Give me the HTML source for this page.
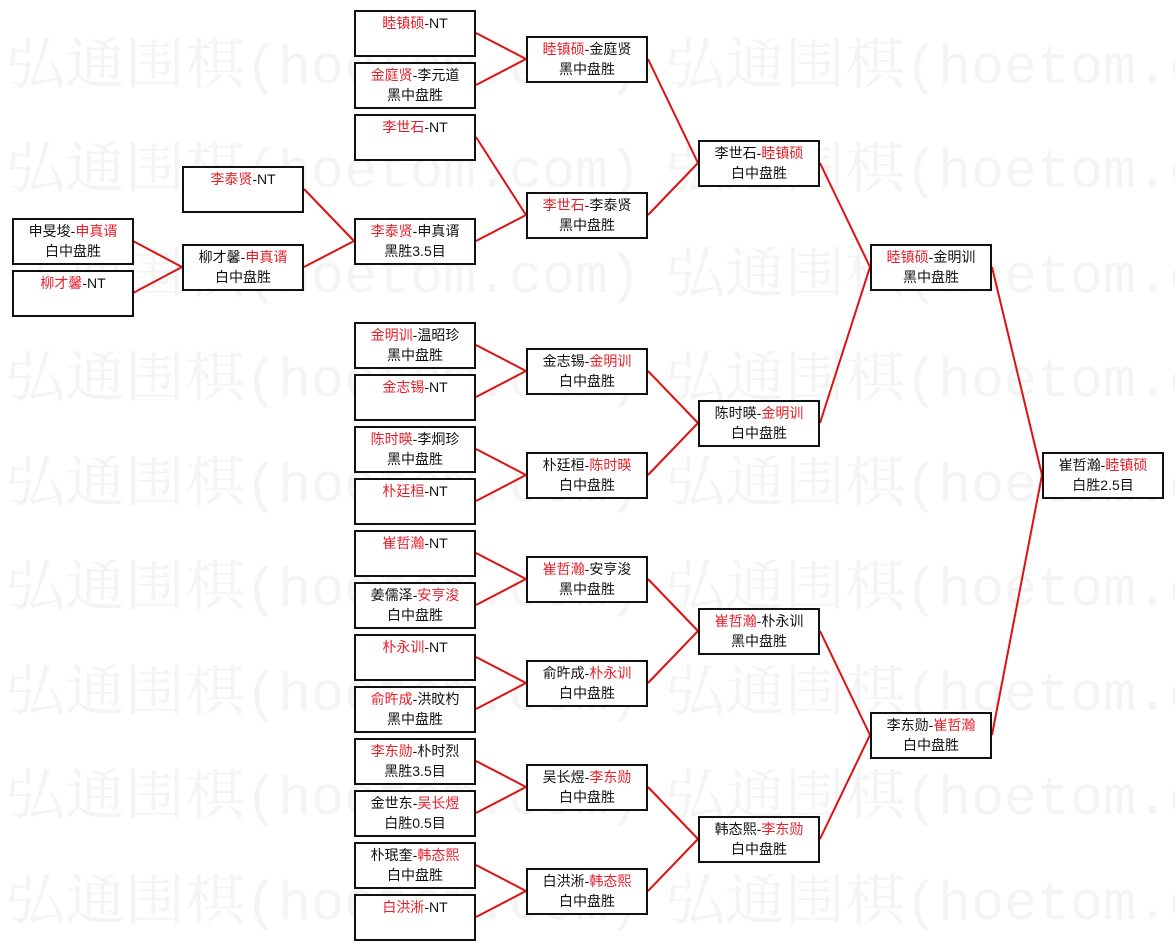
<!DOCTYPE html>
<html><head><meta charset="utf-8"><style>
html,body{margin:0;padding:0;background:#fff;}
body{width:1175px;height:949px;position:relative;overflow:hidden;font-family:"Liberation Sans","Noto Sans CJK SC",sans-serif;}
.wm{position:absolute;left:5px;white-space:nowrap;font-family:"Liberation Mono","Noto Serif CJK SC",monospace;font-size:55px;line-height:60px;color:#f4f4f4;}
.wm i{font-style:normal;display:inline-block;width:660px;overflow:hidden;}
.wm b{font-weight:normal;font-size:60px;}
.b{position:absolute;width:118px;height:42px;border:2px solid #111;background:#fff;font-size:14px;line-height:20px;text-align:center;color:#111;padding-top:1px;box-sizing:content-box;}
.b span{color:#e8202a;}
svg{position:absolute;left:0;top:0;}
</style></head><body>
<div class="wm" style="top:38px"><i><b>弘通围棋</b>(hoetom.com)</i><i><b>弘通围棋</b>(hoetom.com)</i></div>
<div class="wm" style="top:142px"><i><b>弘通围棋</b>(hoetom.com)</i><i><b>弘通围棋</b>(hoetom.com)</i></div>
<div class="wm" style="top:247px"><i><b>弘通围棋</b>(hoetom.com)</i><i><b>弘通围棋</b>(hoetom.com)</i></div>
<div class="wm" style="top:351px"><i><b>弘通围棋</b>(hoetom.com)</i><i><b>弘通围棋</b>(hoetom.com)</i></div>
<div class="wm" style="top:456px"><i><b>弘通围棋</b>(hoetom.com)</i><i><b>弘通围棋</b>(hoetom.com)</i></div>
<div class="wm" style="top:560px"><i><b>弘通围棋</b>(hoetom.com)</i><i><b>弘通围棋</b>(hoetom.com)</i></div>
<div class="wm" style="top:665px"><i><b>弘通围棋</b>(hoetom.com)</i><i><b>弘通围棋</b>(hoetom.com)</i></div>
<div class="wm" style="top:769px"><i><b>弘通围棋</b>(hoetom.com)</i><i><b>弘通围棋</b>(hoetom.com)</i></div>
<div class="wm" style="top:874px"><i><b>弘通围棋</b>(hoetom.com)</i><i><b>弘通围棋</b>(hoetom.com)</i></div>

<svg width="1175" height="949" stroke="#e01010" stroke-width="2" fill="none">
<path d="M133 241L182 267M133 293L182 267M304 189L354 241M304 267L354 241"/>
<path d="M476 33L526 59M476 85L526 59M476 137L526 215M476 241L526 215M476 345L526 371M476 397L526 371M476 449L526 475M476 501L526 475M476 553L526 579M476 605L526 579M476 657L526 683M476 709L526 683M476 761L526 787M476 813L526 787M476 865L526 891M476 917L526 891"/>
<path d="M648 59L698 163M648 215L698 163M648 371L698 423M648 475L698 423M648 579L698 631M648 683L698 631M648 787L698 839M648 891L698 839"/>
<path d="M820 163L870 267M820 423L870 267M820 631L870 735M820 839L870 735"/>
<path d="M992 267L1042 475M992 735L1042 475"/>
</svg>

<div class="b" style="left:12px;top:218px">申旻埈-<span>申真谞</span><br>白中盘胜</div>
<div class="b" style="left:12px;top:270px"><span>柳才馨</span>-NT</div>
<div class="b" style="left:182px;top:166px"><span>李泰贤</span>-NT</div>
<div class="b" style="left:182px;top:244px">柳才馨-<span>申真谞</span><br>白中盘胜</div>

<div class="b" style="left:354px;top:10px"><span>睦镇硕</span>-NT</div>
<div class="b" style="left:354px;top:62px"><span>金庭贤</span>-李元道<br>黑中盘胜</div>
<div class="b" style="left:354px;top:114px"><span>李世石</span>-NT</div>
<div class="b" style="left:354px;top:218px"><span>李泰贤</span>-申真谞<br>黑胜3.5目</div>
<div class="b" style="left:354px;top:322px"><span>金明训</span>-温昭珍<br>黑中盘胜</div>
<div class="b" style="left:354px;top:374px"><span>金志锡</span>-NT</div>
<div class="b" style="left:354px;top:426px"><span>陈时暎</span>-李炯珍<br>黑中盘胜</div>
<div class="b" style="left:354px;top:478px"><span>朴廷桓</span>-NT</div>
<div class="b" style="left:354px;top:530px"><span>崔哲瀚</span>-NT</div>
<div class="b" style="left:354px;top:582px">姜儒泽-<span>安亨浚</span><br>白中盘胜</div>
<div class="b" style="left:354px;top:634px"><span>朴永训</span>-NT</div>
<div class="b" style="left:354px;top:686px"><span>俞旿成</span>-洪旼杓<br>黑中盘胜</div>
<div class="b" style="left:354px;top:738px"><span>李东勋</span>-朴时烈<br>黑胜3.5目</div>
<div class="b" style="left:354px;top:790px">金世东-<span>吴长煜</span><br>白胜0.5目</div>
<div class="b" style="left:354px;top:842px">朴珉奎-<span>韩态熙</span><br>白中盘胜</div>
<div class="b" style="left:354px;top:894px"><span>白洪淅</span>-NT</div>

<div class="b" style="left:526px;top:36px"><span>睦镇硕</span>-金庭贤<br>黑中盘胜</div>
<div class="b" style="left:526px;top:192px"><span>李世石</span>-李泰贤<br>黑中盘胜</div>
<div class="b" style="left:526px;top:348px">金志锡-<span>金明训</span><br>白中盘胜</div>
<div class="b" style="left:526px;top:452px">朴廷桓-<span>陈时暎</span><br>白中盘胜</div>
<div class="b" style="left:526px;top:556px"><span>崔哲瀚</span>-安亨浚<br>黑中盘胜</div>
<div class="b" style="left:526px;top:660px">俞旿成-<span>朴永训</span><br>白中盘胜</div>
<div class="b" style="left:526px;top:764px">吴长煜-<span>李东勋</span><br>白中盘胜</div>
<div class="b" style="left:526px;top:868px">白洪淅-<span>韩态熙</span><br>白中盘胜</div>

<div class="b" style="left:698px;top:140px">李世石-<span>睦镇硕</span><br>白中盘胜</div>
<div class="b" style="left:698px;top:400px">陈时暎-<span>金明训</span><br>白中盘胜</div>
<div class="b" style="left:698px;top:608px"><span>崔哲瀚</span>-朴永训<br>黑中盘胜</div>
<div class="b" style="left:698px;top:816px">韩态熙-<span>李东勋</span><br>白中盘胜</div>

<div class="b" style="left:870px;top:244px"><span>睦镇硕</span>-金明训<br>黑中盘胜</div>
<div class="b" style="left:870px;top:712px">李东勋-<span>崔哲瀚</span><br>白中盘胜</div>

<div class="b" style="left:1042px;top:452px">崔哲瀚-<span>睦镇硕</span><br>白胜2.5目</div>
</body></html>
